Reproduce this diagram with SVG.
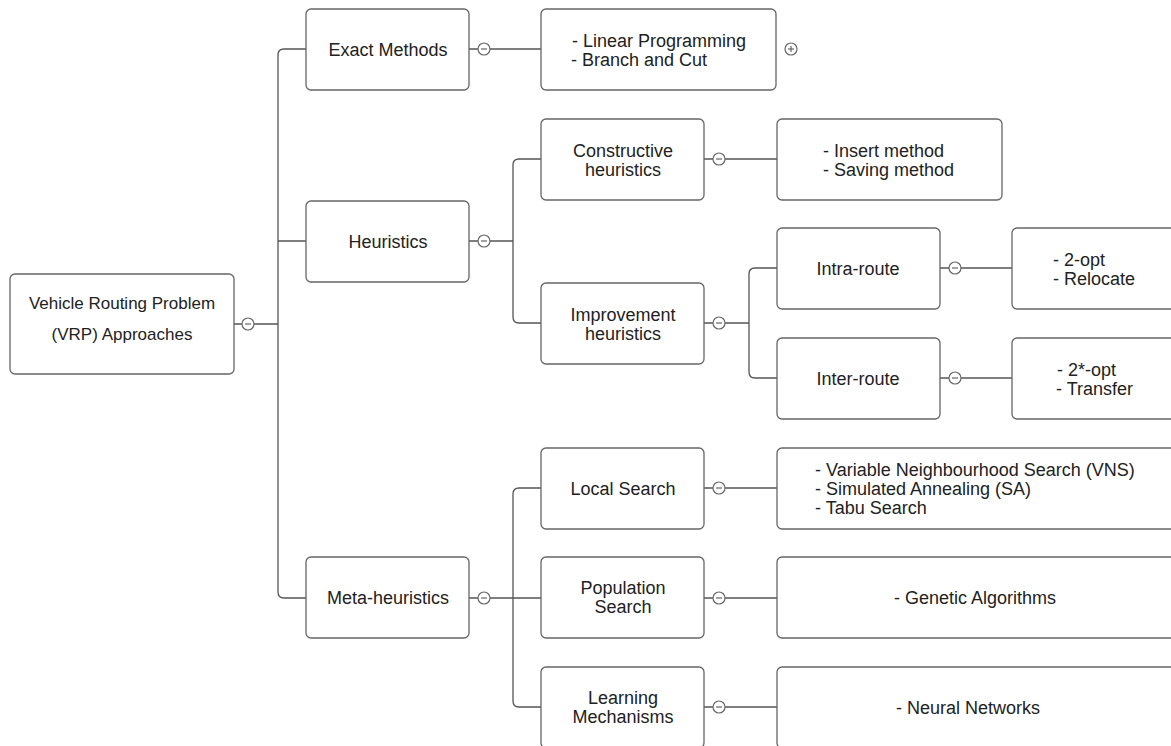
<svg xmlns="http://www.w3.org/2000/svg" width="1171" height="746" viewBox="0 0 1171 746">
<style>
.box{fill:#fff;stroke:#666;stroke-width:1.3}
.ln{fill:none;stroke:#555;stroke-width:1.3}
.tg{fill:#fff;stroke:#666;stroke-width:1.2}
.tgm{stroke:#666;stroke-width:1.2}
text{font-family:"Liberation Sans",Arial,sans-serif;font-size:18px;fill:#222}
.c{text-anchor:middle}
.root{font-size:17px}
</style>
<rect width="1171" height="746" fill="#fff"/>
<g id="connectors">
<path class="ln" d="M234,324H242M254,324H278M306,49H284Q278,49 278,55V592Q278,598 284,598H306M278,241H306"/>
<path class="ln" d="M469,49H478M490,49H541"/>
<path class="ln" d="M469,241H478M490,241H513M541,159H519Q513,159 513,165V317Q513,323 519,323H541"/>
<path class="ln" d="M704,159H713M725,159H777"/>
<path class="ln" d="M704,323H713M725,323H749M777,268H755Q749,268 749,274V372Q749,378 755,378H777"/>
<path class="ln" d="M940,268H949M961,268H1012M940,378H949M961,378H1012"/>
<path class="ln" d="M469,598H478M490,598H541M541,488H519Q513,488 513,494V701Q513,707 519,707H541"/>
<path class="ln" d="M704,488H713M725,488H777M704,598H713M725,598H777M704,707H713M725,707H777"/>
<g id="toggles">
<circle class="tg" cx="248" cy="324" r="6"/><line class="tgm" x1="245" y1="324" x2="251" y2="324"/>
<circle class="tg" cx="484" cy="49" r="6"/><line class="tgm" x1="481" y1="49" x2="487" y2="49"/>
<circle class="tg" cx="484" cy="241" r="6"/><line class="tgm" x1="481" y1="241" x2="487" y2="241"/>
<circle class="tg" cx="484" cy="598" r="6"/><line class="tgm" x1="481" y1="598" x2="487" y2="598"/>
<circle class="tg" cx="719" cy="159" r="6"/><line class="tgm" x1="716" y1="159" x2="722" y2="159"/>
<circle class="tg" cx="719" cy="323" r="6"/><line class="tgm" x1="716" y1="323" x2="722" y2="323"/>
<circle class="tg" cx="719" cy="488" r="6"/><line class="tgm" x1="716" y1="488" x2="722" y2="488"/>
<circle class="tg" cx="719" cy="598" r="6"/><line class="tgm" x1="716" y1="598" x2="722" y2="598"/>
<circle class="tg" cx="719" cy="707" r="6"/><line class="tgm" x1="716" y1="707" x2="722" y2="707"/>
<circle class="tg" cx="955" cy="268" r="6"/><line class="tgm" x1="952" y1="268" x2="958" y2="268"/>
<circle class="tg" cx="955" cy="378" r="6"/><line class="tgm" x1="952" y1="378" x2="958" y2="378"/>
<circle class="tg" cx="791" cy="49" r="6"/><line class="tgm" x1="788" y1="49" x2="794" y2="49"/><line class="tgm" x1="791" y1="46" x2="791" y2="52"/>
</g>
</g>
<g id="root"><rect class="box" x="10" y="274" width="224" height="100" rx="5"/><text class="c root" x="122" y="309">Vehicle Routing Problem</text><text class="c root" x="122" y="340">(VRP) Approaches</text></g>
<g id="exact"><rect class="box" x="306" y="9" width="163" height="81" rx="5"/><text class="c" x="388" y="56">Exact Methods</text></g>
<g id="heuristics"><rect class="box" x="306" y="201" width="163" height="81" rx="5"/><text class="c" x="388" y="248">Heuristics</text></g>
<g id="meta"><rect class="box" x="306" y="557" width="163" height="81" rx="5"/><text class="c" x="388" y="604">Meta-heuristics</text></g>
<g id="exact-leaf"><rect class="box" x="541" y="9" width="235" height="81" rx="5"/><text x="572" y="47">- Linear Programming</text><text x="571" y="66">- Branch and Cut</text></g>
<g id="constructive"><rect class="box" x="541" y="119" width="163" height="81" rx="5"/><text class="c" x="623" y="157">Constructive</text><text class="c" x="623" y="176">heuristics</text></g>
<g id="constructive-leaf"><rect class="box" x="777" y="119" width="225" height="81" rx="5"/><text x="823" y="157">- Insert method</text><text x="823" y="176">- Saving method</text></g>
<g id="improvement"><rect class="box" x="541" y="283" width="163" height="81" rx="5"/><text class="c" x="623" y="321">Improvement</text><text class="c" x="623" y="340">heuristics</text></g>
<g id="intra"><rect class="box" x="777" y="228" width="163" height="81" rx="5"/><text class="c" x="858" y="275">Intra-route</text></g>
<g id="inter"><rect class="box" x="777" y="338" width="163" height="81" rx="5"/><text class="c" x="858" y="385">Inter-route</text></g>
<g id="intra-leaf"><rect class="box" x="1012" y="228" width="170" height="81" rx="5"/><text x="1053" y="266">- 2-opt</text><text x="1053" y="285">- Relocate</text></g>
<g id="inter-leaf"><rect class="box" x="1012" y="338" width="170" height="81" rx="5"/><text x="1057" y="376">- 2*-opt</text><text x="1056" y="395">- Transfer</text></g>
<g id="local"><rect class="box" x="541" y="448" width="163" height="81" rx="5"/><text class="c" x="623" y="495">Local Search</text></g>
<g id="local-leaf"><rect class="box" x="777" y="448" width="405" height="81" rx="5"/><text x="815" y="476">- Variable Neighbourhood Search (VNS)</text><text x="815" y="495">- Simulated Annealing (SA)</text><text x="815" y="514">- Tabu Search</text></g>
<g id="population"><rect class="box" x="541" y="557" width="163" height="81" rx="5"/><text class="c" x="623" y="594">Population</text><text class="c" x="623" y="613">Search</text></g>
<g id="population-leaf"><rect class="box" x="777" y="557" width="405" height="81" rx="5"/><text x="894" y="604">- Genetic Algorithms</text></g>
<g id="learning"><rect class="box" x="541" y="667" width="163" height="81" rx="5"/><text class="c" x="623" y="704">Learning</text><text class="c" x="623" y="723">Mechanisms</text></g>
<g id="learning-leaf"><rect class="box" x="777" y="667" width="405" height="81" rx="5"/><text x="896" y="714">- Neural Networks</text></g>
</svg>
